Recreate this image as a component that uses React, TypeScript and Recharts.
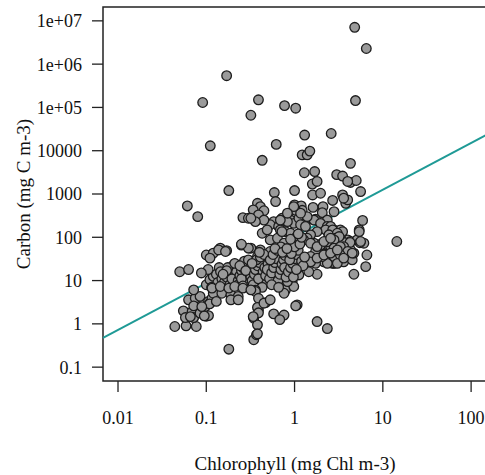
import { ScatterChart, Scatter, XAxis, YAxis, ReferenceArea, ReferenceLine, Label } from "recharts";

// chlorophyll (mg Chl m-3), carbon (mg C m-3)
const highOutliers: [number, number][] = [
  [4.8, 7.1e6], [6.5, 2.3e6], [0.17, 5.4e5], [0.091, 1.3e5], [0.39, 1.5e5], [0.77, 1.1e5],
  [1.03, 9.6e4], [0.32, 6.6e4], [4.9, 1.44e5], [0.111, 1.3e4], [0.62, 1.4e4], [1.3, 2.3e4],
  [2.6, 2.5e4], [0.43, 6000], [1.22, 8000], [1.39, 8000], [1.49, 9800], [4.3, 5100],
];

const upperPoints: [number, number][] = [
  [1.29, 3100], [1.69, 3300], [3.0, 2800], [3.5, 2600], [4.3, 1850], [5.0, 2050], [4.0, 1950],
  [1.59, 1700], [1.8, 1950], [5.6, 1140], [0.59, 1080], [0.61, 670], [1.0, 1200], [1.6, 950],
  [1.97, 1040], [3.5, 950], [3.8, 610], [4.0, 730], [3.6, 800], [0.18, 1200], [0.061, 530],
  [0.08, 300], [0.26, 285], [0.3, 275], [0.37, 250], [0.38, 610], [0.41, 510], [0.45, 410],
  [1.0, 560], [1.19, 530], [1.22, 420], [1.03, 420], [1.62, 490], [2.1, 510], [2.7, 710],
  [2.8, 390], [2.06, 370], [0.83, 330], [0.72, 275], [0.9, 250], [0.76, 210], [0.58, 230],
  [0.53, 195], [0.98, 210], [1.12, 275], [1.9, 230], [2.35, 250], [0.34, 430], [0.39, 330],
  [0.45, 250], [0.36, 230], [0.32, 275], [5.9, 245], [0.66, 178], [0.69, 148], [0.79, 135],
  [0.43, 124], [0.49, 148], [0.83, 230], [1.31, 210], [1.73, 260], [1.17, 195], [1.66, 250],
  [1.39, 300], [1.17, 360], [0.98, 510], [0.83, 360], [0.69, 250], [1.97, 210], [2.35, 178],
  [2.8, 148], [3.3, 124], [4.0, 87],
];

const rightPoints: [number, number][] = [
  [2.56, 178], [2.25, 148], [1.8, 135], [1.52, 114], [1.33, 178], [3.3, 148], [2.7, 114],
  [3.3, 100], [4.3, 80], [5.1, 87], [5.4, 148], [6.1, 73], [6.6, 39], [5.4, 135], [5.5, 75],
  [6.4, 21], [4.7, 14], [14.4, 80], [3.5, 135], [3.4, 79], [3.7, 75], [3.3, 51], [3.5, 43],
  [3.2, 33], [2.8, 25], [3.6, 27], [4.5, 30], [2.56, 27], [2.15, 27], [2.25, 43], [2.06, 73],
  [2.35, 66], [2.45, 107], [2.7, 148], [2.45, 114], [3.05, 124], [4.7, 43], [4.3, 51],
  [2.9, 95], [3.2, 104], [4.25, 76], [5.6, 80], [2.7, 25], [3.6, 61], [3.05, 51], [2.56, 61],
  [2.8, 87], [2.25, 41], [3.3, 43], [2.75, 26], [2.35, 25], [1.73, 25], [1.27, 23], [1.8, 14],
  [1.45, 16], [1.12, 13.5], [0.94, 9.5], [0.79, 6.1], [1.07, 2.75], [1.8, 1.13], [2.35, 0.78],
];

const midPoints: [number, number][] = [
  [0.53, 87], [0.64, 95], [0.76, 73], [0.96, 79], [1.17, 79], [1.39, 95], [1.66, 73], [1.97, 66],
  [2.35, 79], [2.8, 56], [3.3, 61], [4.0, 47], [1.73, 47], [0.96, 47], [0.69, 43], [0.53, 47],
  [0.41, 51], [0.32, 56], [0.38, 36], [0.47, 36], [0.64, 33], [0.83, 36], [1.17, 36], [1.52, 36],
  [2.06, 36], [2.8, 36], [3.3, 39], [4.5, 43], [0.64, 12.4], [0.76, 13.5], [0.9, 16], [1.07, 19.3],
  [1.52, 27], [1.8, 33], [2.15, 39], [2.56, 43], [3.05, 51], [0.9, 124], [1.07, 107], [1.27, 87],
  [1.52, 73], [1.8, 61], [2.15, 80], [2.56, 95], [3.05, 25], [3.6, 33], [0.98, 7.3], [0.76, 5.1],
  [0.83, 9.5], [0.64, 7.9], [0.51, 9.5], [0.41, 10.4], [0.32, 9.5], [0.25, 66], [0.3, 56],
  [0.72, 135], [0.144, 56], [0.17, 49], [0.1, 39], [0.12, 43], [0.11, 33], [0.138, 51],
  [0.165, 47], [0.25, 69],
];

const corePoints: [number, number][] = [
  [0.1, 8], [0.11, 10.5], [0.12, 12.5], [0.13, 14], [0.105, 18], [0.14, 20], [0.125, 6],
  [0.135, 9], [0.15, 11], [0.145, 16], [0.115, 7], [0.16, 9], [0.17, 12], [0.18, 15], [0.19, 18],
  [0.2, 22], [0.21, 10], [0.165, 6.5], [0.185, 8], [0.2, 13], [0.22, 16], [0.175, 20], [0.21, 25],
  [0.195, 11], [0.17, 17], [0.155, 14], [0.23, 10], [0.24, 13], [0.25, 17], [0.26, 20], [0.27, 24],
  [0.28, 12], [0.29, 9], [0.3, 15], [0.31, 19], [0.23, 8], [0.25, 11], [0.27, 28], [0.3, 30],
  [0.24, 22], [0.32, 12], [0.28, 17], [0.26, 7.5], [0.33, 10], [0.35, 14], [0.36, 18], [0.38, 22],
  [0.4, 26], [0.42, 12], [0.44, 16], [0.46, 20], [0.48, 9], [0.34, 8], [0.37, 30], [0.41, 35],
  [0.45, 40], [0.5, 24], [0.39, 11], [0.43, 7], [0.47, 13], [0.36, 6], [0.49, 18], [0.4, 45],
  [0.33, 25], [0.52, 11], [0.55, 15], [0.58, 20], [0.6, 26], [0.62, 32], [0.65, 10], [0.68, 14],
  [0.7, 18], [0.72, 24], [0.75, 30], [0.78, 38], [0.53, 30], [0.57, 40], [0.64, 50], [0.7, 60],
  [0.55, 8], [0.66, 7], [0.8, 12], [0.77, 20], [0.6, 55], [0.73, 45], [0.85, 16], [0.9, 20],
  [0.95, 25], [1.0, 32], [1.05, 40], [1.1, 50], [1.2, 28], [1.25, 22], [0.88, 30], [0.92, 42],
  [1.0, 60], [1.15, 70], [1.3, 35], [0.82, 55], [0.97, 12], [1.05, 18], [1.2, 100], [0.9, 90],
  [1.1, 120],
];

const lowPoints: [number, number][] = [
  [0.044, 0.87], [0.059, 0.9], [0.077, 0.87], [0.18, 0.26], [0.055, 2.0], [0.069, 1.9],
  [0.058, 1.4], [0.072, 1.4], [0.089, 1.8], [0.1, 1.5], [0.106, 1.55], [0.063, 3.6], [0.075, 3.9],
  [0.085, 4.3], [0.072, 6.1], [0.106, 3.3], [0.11, 3.0], [0.116, 3.9], [0.097, 2.5], [0.345, 1.35],
  [0.39, 2.1], [0.38, 0.95], [0.345, 0.43], [0.37, 0.56], [0.36, 5.6], [0.39, 3.9], [0.12, 5.1],
  [0.15, 5.1], [0.19, 4.7], [0.23, 4.3], [0.116, 6.7], [0.144, 7.3], [0.18, 6.7], [0.21, 7.3],
  [0.26, 6.7], [0.32, 6.1], [1.03, 2.6], [0.58, 1.7], [0.76, 1.6], [0.68, 1.25], [0.47, 3.1],
  [0.19, 3.6], [0.23, 3.6], [0.38, 2.4], [0.39, 1.8], [0.34, 1.47], [0.05, 16], [0.063, 18],
  [0.088, 15], [0.072, 2.6], [0.085, 1.77], [0.095, 1.53], [0.109, 2.9], [0.13, 3.3],
  [0.089, 2.5], [0.066, 1.47], [0.45, 3.0], [0.53, 3.6], [0.38, 0.59],
];

const xTicks = [0.01, 0.1, 1, 10, 100];
const yTicks = [0.1, 1, 10, 100, 1000, 10000, 1e5, 1e6, 1e7];
const yTickLabels = ["0.1", "1", "10", "100", "1000", "10000", "1e+05", "1e+06", "1e+07"];

// log10(carbon) = fitIntercept + fitSlope * log10(chl)
const fitIntercept = 2.02;
const fitSlope = 1.08;

const xDomain: [number, number] = [Math.pow(10, -2.17), Math.pow(10, 2.18)];
const yDomain: [number, number] = [Math.pow(10, -1.32), Math.pow(10, 7.32)];

const points = [...highOutliers, ...upperPoints, ...rightPoints, ...midPoints, ...corePoints, ...lowPoints].map(
  ([chl, carbon]) => ({ chl, carbon })
);

const fitAt = (chl: number) => Math.pow(10, fitIntercept + fitSlope * Math.log10(chl));

const font = "'Liberation Serif', 'Times New Roman', serif";

const Dot = (props: any) => (
  <circle cx={props.cx} cy={props.cy} r={4.8} fill="#9a9a9a" stroke="#1c1c1c" strokeWidth={1.3} />
);

export default function App() {
  return (
    <div style={{ position: "absolute", left: 0, top: 0, width: 485, height: 475, overflow: "hidden", background: "#fff" }}>
      <ScatterChart width={487} height={475} margin={{ top: 7, right: 0, bottom: 0, left: 0 }}>
        <XAxis
          type="number"
          dataKey="chl"
          scale="log"
          domain={xDomain}
          allowDataOverflow
          ticks={xTicks}
          tickFormatter={(v: number) => String(v)}
          axisLine={false}
          tickSize={11}
          tickMargin={19}
          tickLine={{ stroke: "#222", strokeWidth: 1.3 }}
          tick={{ fill: "#111", fontSize: 18, fontFamily: font }}
          height={94}
        >
          <Label
            value="Chlorophyll (mg Chl m-3)"
            position="insideBottom"
            offset={5}
            style={{ fill: "#111", fontSize: 19, fontFamily: font }}
          />
        </XAxis>
        <YAxis
          type="number"
          dataKey="carbon"
          scale="log"
          domain={yDomain}
          allowDataOverflow
          ticks={yTicks}
          tickFormatter={(v: number) => yTickLabels[yTicks.indexOf(v)] ?? String(v)}
          axisLine={false}
          tickSize={11}
          tickMargin={10}
          tickLine={{ stroke: "#222", strokeWidth: 1.3 }}
          tick={{ fill: "#111", fontSize: 18, fontFamily: font }}
          width={103}
        >
          <Label
            value="Carbon (mg C m-3)"
            angle={-90}
            position="insideLeft"
            offset={23}
            style={{ fill: "#111", fontSize: 19, fontFamily: font, textAnchor: "middle" }}
          />
        </YAxis>
        <ReferenceArea
          x1={xDomain[0]}
          x2={xDomain[1]}
          y1={yDomain[0]}
          y2={yDomain[1]}
          fill="none"
          stroke="#222"
          strokeWidth={1.5}
          ifOverflow="visible"
        />
        <Scatter data={points} shape={Dot} isAnimationActive={false} />
        <ReferenceLine
          segment={[
            { x: xDomain[0], y: fitAt(xDomain[0]) },
            { x: xDomain[1], y: fitAt(xDomain[1]) },
          ]}
          stroke="#1f9a96"
          strokeWidth={2}
          ifOverflow="visible"
        />
      </ScatterChart>
    </div>
  );
}
